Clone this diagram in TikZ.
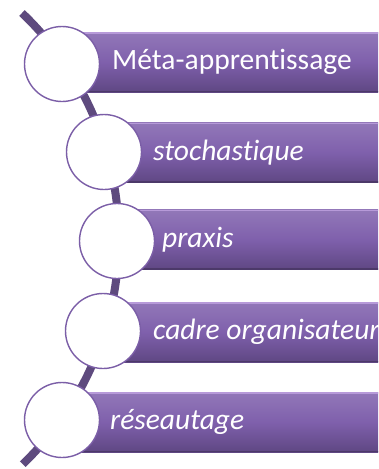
\documentclass[tikz,border=0pt]{standalone}
\usepackage{fontspec}
\setmainfont[Ligatures={NoCommon}]{Carlito}
\definecolor{spinecol}{HTML}{5E4A7E}
\definecolor{barlight}{HTML}{B79AD9}
\definecolor{barmid}{HTML}{7F60AC}
\definecolor{bardark}{HTML}{5F4783}
\definecolor{ringcol}{HTML}{7B5EA7}
\tikzset{
  spine/.style={draw=spinecol,line width=8pt},
  ring/.style={circle,draw=ringcol,line width=1.4pt,fill=white,minimum size=75pt,inner sep=0pt},
  barbody/.style={top color=barmid!85!white,bottom color=bardark,middle color=barmid},
  lbl/.style={anchor=west,text=white,font=\fontsize{29.5}{34}\selectfont,inner sep=0pt}
}
\begin{document}
\begin{tikzpicture}[x=1pt,y=-1pt]
\useasboundingbox (0,0) rectangle (378,469);
\clip (0,0) rectangle (378,469);
\draw[spine] (22,13) arc[start angle=-46.4, end angle=46.2, radius=312];
% bars
\foreach \cx/\yc in {62/62,104/152.5,117/239.5,103/332,62/422}{
  \shade[barbody] (\cx,\yc-30) rectangle (400,\yc+30);
  \fill[barlight] (\cx,\yc-30) rectangle (400,\yc-28.5);
  \fill[bardark!80!black] (\cx,\yc+28.5) rectangle (400,\yc+30);
}
\node[ring] (c1) at (62,64) {};
\node[ring] (c2) at (104,152) {};
\node[ring] (c3) at (117,241) {};
\node[ring] (c4) at (103,331) {};
\node[ring] (c5) at (62,420) {};
\node[lbl] (t1) at (112,62) {Méta-apprentissage};
\node[lbl] (t2) at (153,152.5) {\itshape stochastique};
\node[lbl] (t3) at (162,239.5) {\itshape praxis};
\node[lbl] (t4) at (153,332) {\itshape cadre organisateur};
\node[lbl] (t5) at (110,422) {\itshape réseautage};
\end{tikzpicture}
\end{document}
